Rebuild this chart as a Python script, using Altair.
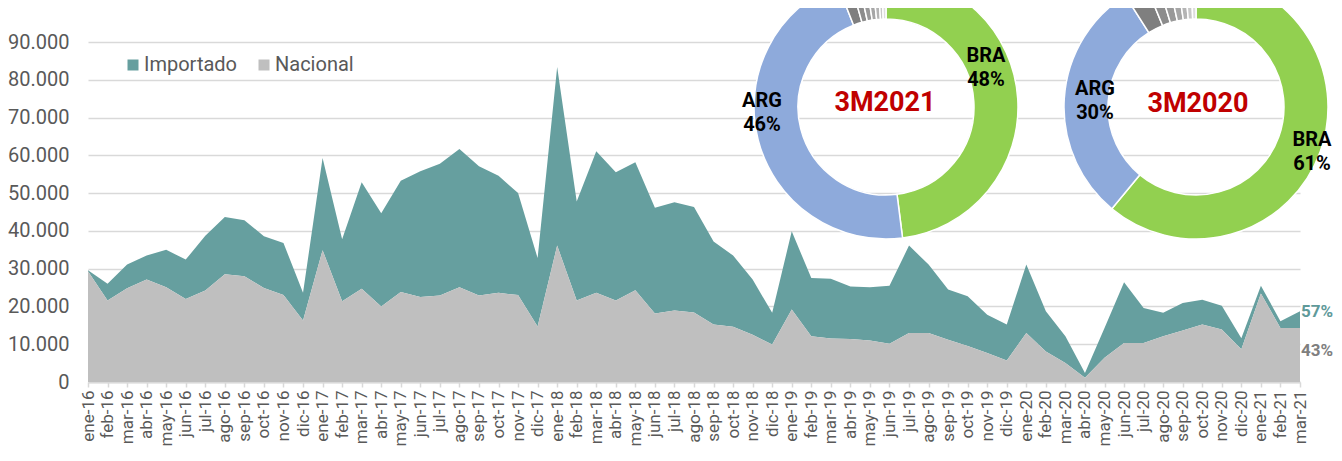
import altair as alt
import pandas as pd

# ---------------- data ----------------
meses_base = ["ene", "feb", "mar", "abr", "may", "jun", "jul", "ago", "sep", "oct", "nov", "dic"]
meses = [f"{m}-{a}" for a in ["16", "17", "18", "19", "20"] for m in meses_base] + ["ene-21", "feb-21", "mar-21"]

nacional = [29300, 21600, 24800, 27100, 25100, 22000, 24200, 28500, 28000, 24900, 23000, 16300,
            34900, 21400, 24700, 20000, 23800, 22500, 22900, 25100, 22900, 23600, 23000, 14700,
            36100, 21600, 23600, 21600, 24300, 18100, 18900, 18400, 15200, 14600, 12500, 9900,
            19200, 12100, 11500, 11400, 11000, 10100, 13000, 13000, 11200, 9500, 7700, 5700,
            13000, 8100, 5000, 1100, 6400, 10300, 10300, 12100, 13600, 15200, 13900, 8700,
            23400, 14300, 14300]

importado = [300, 4400, 6300, 6400, 9900, 10400, 14500, 15200, 14800, 13700, 13800, 7300,
             24400, 16400, 28200, 24700, 29500, 33300, 34900, 36600, 34200, 31000, 27000, 18100,
             47300, 26200, 37500, 33900, 33900, 28000, 28700, 27900, 22000, 18900, 14600, 8400,
             20700, 15400, 15800, 13900, 14100, 15400, 23100, 18100, 13300, 13200, 10100, 9500,
             18100, 10600, 7100, 1300, 7900, 16100, 9300, 6200, 7300, 6600, 6300, 2900,
             2100, 1800, 4400]

series = ["Importado", "Nacional"]
series_colors = ["#669f9f", "#bfbfbf"]
y_ticks = list(range(0, 90001, 10000))

share_importado = "57%"
share_nacional = "43%"

paises = ["BRA", "ARG", "O1", "O2", "O3", "O4", "O5", "O6", "O7"]
pais_colors = ["#92d050", "#8eaadb", "#7f7f7f", "#8c8c8c", "#999999", "#a6a6a6", "#b4b4b4", "#c8c8c8", "#dddddd"]
pct_2021 = [48, 46, 1.6, 1.0, 0.9, 0.8, 0.7, 0.5, 0.5]
pct_2020 = [61, 30, 2.8, 1.5, 1.3, 1.1, 0.9, 0.8, 0.6]

# ---------------- tables ----------------
rows = []
for i, m in enumerate(meses):
    rows.append({"mes": m, "tipo": "Importado", "valor": importado[i], "orden": 1})
    rows.append({"mes": m, "tipo": "Nacional", "valor": nacional[i], "orden": 0})
df = pd.DataFrame(rows)

FONT = "Roboto"
GREY_TXT = "#595959"
GRID = "#d9d9d9"

x_axis = alt.Axis(title=None, labelAngle=-90, labelFontSize=17, labelColor=GREY_TXT,
                  labelFont=FONT, tickColor=GRID, tickSize=5, tickWidth=1.5,
                  domainColor=GRID, domainWidth=2, labelPadding=3, grid=False,
                  labelOverlap=False, labelLimit=300)
y_axis = alt.Axis(title=None, values=y_ticks, domain=False, ticks=False,
                  labelExpr="replace(format(datum.value, ','), ',', '.')",
                  labelFontSize=20, labelColor=GREY_TXT, labelFont=FONT,
                  labelOverlap=False, labelPadding=19, gridColor=GRID, gridWidth=1.5)
x_scale = alt.Scale(type="point", padding=0)
y_scale = alt.Scale(domain=[0, 90000], nice=False)

area = alt.Chart(df).mark_area(interpolate="linear").encode(
    x=alt.X("mes:O", sort=meses, scale=x_scale, axis=x_axis),
    y=alt.Y("valor:Q", stack="zero", scale=y_scale, axis=y_axis),
    color=alt.Color("tipo:N", scale=alt.Scale(domain=series, range=series_colors),
                    legend=alt.Legend(title=None, orient="none", legendX=35, legendY=13,
                                      direction="horizontal", symbolType="square",
                                      symbolSize=121, symbolStrokeWidth=0,
                                      labelFontSize=20, labelColor=GREY_TXT, labelFont=FONT,
                                      labelOffset=1, columnPadding=17, padding=0, labelLimit=300)),
    order=alt.Order("orden:Q"),
)

# share labels at the right end
last = meses[-1]
df_imp = pd.DataFrame({"mes": [last], "pos": [nacional[-1] + importado[-1]], "txt": [share_importado]})
df_nac = pd.DataFrame({"mes": [last], "pos": [nacional[-1] / 2], "txt": [share_nacional]})

lab_imp = alt.Chart(df_imp).mark_text(align="left", baseline="middle", dx=1, dy=1, font=FONT,
                                      fontWeight="bold", fontSize=17, color="#5f9a9a").encode(
    x=alt.X("mes:O", sort=meses, scale=x_scale, axis=x_axis),
    y=alt.Y("pos:Q", scale=y_scale, axis=y_axis), text="txt:N")
lab_nac = alt.Chart(df_nac).mark_text(align="left", baseline="middle", dx=1, dy=-4, font=FONT,
                                      fontWeight="bold", fontSize=17, color="#7f7f7f").encode(
    x=alt.X("mes:O", sort=meses, scale=x_scale, axis=x_axis),
    y=alt.Y("pos:Q", scale=y_scale, axis=y_axis), text="txt:N")


def donut(vals, cx, cy):
    d = pd.DataFrame({"pais": paises, "pct": vals, "k": list(range(len(paises)))})
    return alt.Chart(d).mark_arc(radius=132, innerRadius=88, stroke="white", strokeWidth=1.5).encode(
        x=alt.value(cx), y=alt.value(cy),
        theta=alt.Theta("pct:Q", stack=True),
        order=alt.Order("k:Q"),
        color=alt.Color("pais:N", scale=alt.Scale(domain=paises, range=pais_colors), legend=None),
    )


one = pd.DataFrame({"a": [0]})


def etiqueta(lines, x, y, color="black", size=20):
    return alt.Chart(one).mark_text(font=FONT, fontWeight="bold", fontSize=size, color=color,
                                    lineHeight=24, align="center", baseline="middle").encode(
        x=alt.value(x), y=alt.value(y), text=alt.value(lines))


d1 = donut(pct_2021, 798, 65)
d2 = donut(pct_2020, 1108, 65)

t_bra1 = etiqueta([paises[0], f"{pct_2021[0]}%"], 898, 14)
t_arg1 = etiqueta([paises[1], f"{pct_2021[1]}%"], 674, 59)
t_c1 = etiqueta("3M2021", 797, 61, color="#c00000", size=27)
t_arg2 = etiqueta([paises[1], f"{pct_2020[1]}%"], 1007, 47)
t_c2 = etiqueta("3M2020", 1110, 62, color="#c00000", size=27)
t_bra2 = etiqueta([paises[0], f"{pct_2020[0]}%"], 1224, 98)

chart = alt.layer(
    area, lab_imp, lab_nac, d1, d2, t_bra1, t_arg1, t_c1, t_arg2, t_c2, t_bra2
).resolve_scale(
    color="independent", theta="independent"
).properties(
    width=1212, height=340,
    autosize=alt.AutoSizeParams(type="none"),
    padding={"left": 80, "top": 34, "right": 34, "bottom": 66},
    background="white",
).configure_view(stroke=None).configure_axisY(labelOverlap=False)

chart.save("out.html", embed_options={"renderer": "svg", "actions": False})
